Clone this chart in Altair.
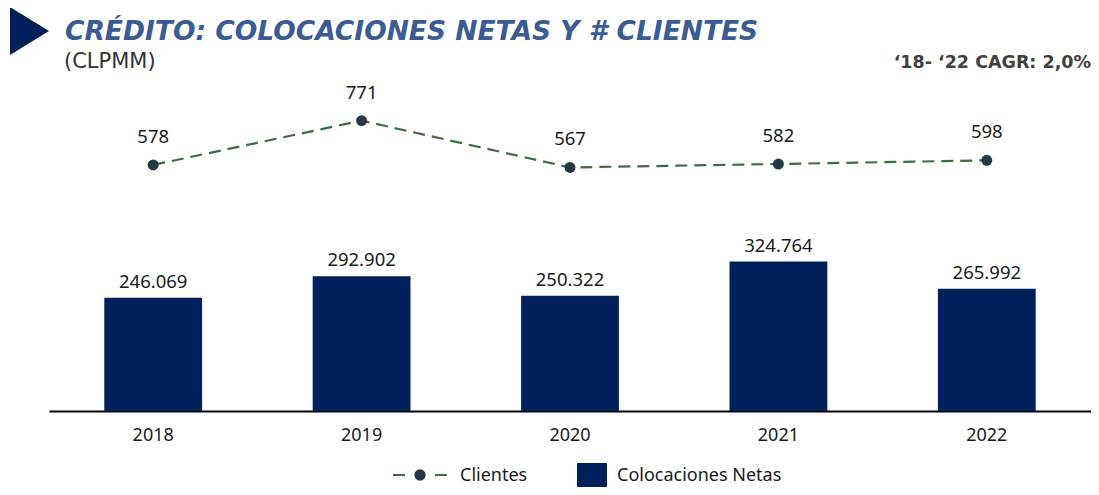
import altair as alt
import pandas as pd

# ---- data ----
years = ["2018", "2019", "2020", "2021", "2022"]
colocaciones = [246069, 292902, 250322, 324764, 265992]
clientes = [578, 771, 567, 582, 598]

TITLE = "CRÉDITO: COLOCACIONES NETAS Y # CLIENTES"
SUBTITLE = "(CLPMM)"
CAGR = "\u201818- \u201822 CAGR: 2,0%"
LEG_LINE = "Clientes"
LEG_BAR = "Colocaciones Netas"

def fmt_es(v):
    return f"{v:,}".replace(",", ".")

df = pd.DataFrame({
    "year": years,
    "col": colocaciones,
    "col_label": [fmt_es(v) for v in colocaciones],
    "cli": clientes,
    "cli_label": [str(v) for v in clientes],
})

NAVY = "#00205b"
GREEN = "#3d6b45"
DOT = "#263746"
TXT = "#1a1a1a"
FONT = "Noto Sans"

xenc = alt.X(
    "year:N",
    sort=years,
    scale=alt.Scale(paddingInner=0.5307, paddingOuter=0.2653),
    axis=alt.Axis(
        title=None, ticks=False, tickSize=0, grid=False,
        domainColor="#000000", domainWidth=2,
        labelFont=FONT, labelFontSize=18, labelColor=TXT,
        labelPadding=15, labelAngle=0,
    ),
)

base = alt.Chart(df)

ybar = alt.Y("col:Q", scale=alt.Scale(domain=[0, 719600], nice=False, zero=True), axis=None)
bars = base.mark_bar(color=NAVY).encode(x=xenc, y=ybar)
bar_labels = base.mark_text(
    font=FONT, fontSize=18.5, color=TXT, baseline="alphabetic", dy=-10
).encode(x=xenc, y=ybar, text="col_label:N")
bar_layer = alt.layer(bars, bar_labels)

yline = alt.Y("cli:Q", scale=alt.Scale(domain=[-494, 948], nice=False, zero=False), axis=None)
line = base.mark_line(color=GREEN, strokeWidth=2.2, strokeDash=[12, 7]).encode(x=xenc, y=yline)
pts = base.mark_point(filled=True, color=DOT, size=120, opacity=1).encode(x=xenc, y=yline)
pt_labels = base.mark_text(
    font=FONT, fontSize=18.5, color=TXT, baseline="alphabetic", dy=-22
).encode(x=xenc, y=yline, text="cli_label:N")
line_layer = alt.layer(line, pts, pt_labels)

one = alt.Chart(pd.DataFrame({"k": [0]}))

triangle = one.mark_point(
    shape="M-0.8125,-1L0.8125,0L-0.8125,1Z", filled=True, color=NAVY, opacity=1, size=2304
).encode(x=alt.value(-19.5), y=alt.value(-49))

title = one.mark_text(
    text=TITLE, font="DejaVu Sans", fontSize=26.5, fontStyle="italic", fontWeight="bold",
    color="#3b5c93", align="left", baseline="alphabetic"
).encode(x=alt.value(16), y=alt.value(-40))

subtitle = one.mark_text(
    text=SUBTITLE, font="DejaVu Sans", fontSize=21, color="#333333", align="left", baseline="alphabetic"
).encode(x=alt.value(15), y=alt.value(-12))

cagr = one.mark_text(
    text=CAGR, font="DejaVu Sans", fontSize=17.5, fontWeight="bold", color="#404040",
    align="right", baseline="alphabetic"
).encode(x=alt.value(1042), y=alt.value(-12))

leg_rule = one.mark_rule(color=GREEN, strokeWidth=2.2, strokeDash=[12, 30]).encode(
    x=alt.value(344), x2=alt.value(399), y=alt.value(395)
)
leg_dot = one.mark_point(filled=True, color=DOT, size=130, opacity=1).encode(
    x=alt.value(371), y=alt.value(395)
)
leg_text1 = one.mark_text(
    text=LEG_LINE, font=FONT, fontSize=18, color=TXT, align="left", baseline="alphabetic"
).encode(x=alt.value(411), y=alt.value(401))
leg_sq = one.mark_point(shape="square", filled=True, color=NAVY, size=900, opacity=1).encode(
    x=alt.value(543), y=alt.value(398)
)
leg_text2 = one.mark_text(
    text=LEG_BAR, font=FONT, fontSize=18, color=TXT, align="left", baseline="alphabetic"
).encode(x=alt.value(568), y=alt.value(401))

chart = alt.layer(
    bar_layer, line_layer,
    triangle, title, subtitle, cagr,
    leg_rule, leg_dot, leg_text1, leg_sq, leg_text2,
).resolve_scale(y="independent").properties(
    width=1042, height=331,
    autosize=alt.AutoSizeParams(type="none"),
    padding={"left": 41, "top": 72, "right": 0, "bottom": 76},
).configure_view(stroke=None)

chart.save("out.html", embed_options={"renderer": "svg", "actions": False})
